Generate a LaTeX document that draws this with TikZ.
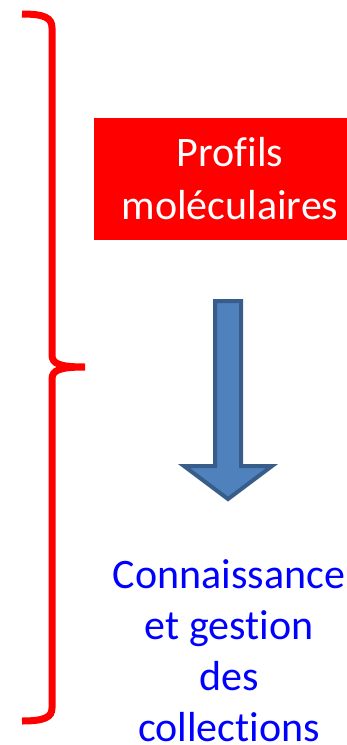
\documentclass[tikz,border=0pt]{standalone}
\usepackage{fontspec}
\setmainfont{Carlito}[Ligatures={NoCommon,NoContextual}]
\definecolor{arrowfill}{HTML}{4F81BD}
\definecolor{arrowline}{HTML}{385D8A}
\tikzset{txt/.style={align=center, inner sep=0pt}}

\begin{document}
\begin{tikzpicture}[x=1pt,y=-1pt]
\useasboundingbox (0,0) rectangle (347,745);
\draw[red, line width=7pt] (22,14) .. controls (45,14) and (52,18) .. (52,28) -- (52,355) .. controls (52,364) and (60,367) .. (85,367) .. controls (60,367) and (52,370) .. (52,379) -- (52,708) .. controls (52,717) and (45,721) .. (22,721);
\fill[red] (94,118) rectangle (347,240);
\node[txt, text=white, font=\fontsize{42}{53}\selectfont] (profils) at (230,179) {Profils\\moléculaires};
\draw[arrowline, fill=arrowfill, line width=4pt] (215,301) -- (241,301) -- (241,466) -- (272,466) -- (228,499) -- (184,466) -- (215,466) -- cycle;
\node[txt, text=blue, font=\fontsize{42}{51}\selectfont] (collections) at (229,651) {Connaissance\\et gestion\\des\\collections};
\end{tikzpicture}
\end{document}
